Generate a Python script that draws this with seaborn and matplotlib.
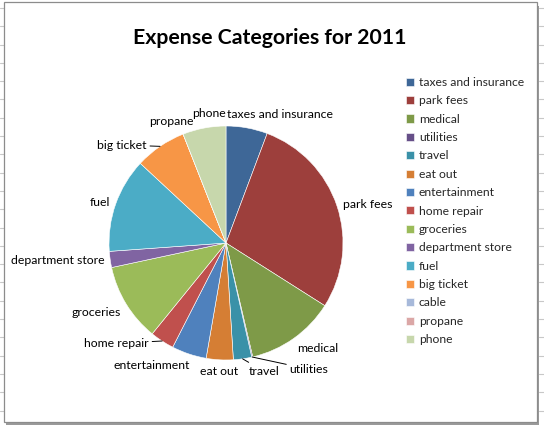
import numpy as np
import matplotlib.pyplot as plt
import seaborn as sns
from matplotlib.patches import Rectangle
from matplotlib.lines import Line2D

# expense data
categories = ["taxes and insurance", "park fees", "medical", "utilities", "travel",
              "eat out", "entertainment", "home repair", "groceries", "department store",
              "fuel", "big ticket", "cable", "propane", "phone"]
amounts = [1717, 8483, 3700, 42, 758, 1117, 1442, 1000, 3233, 667, 3917, 2133, 0, 0, 1792]
colors = ["#3E6797", "#9D3F3C", "#7E9A48", "#664F88", "#3A91A8", "#D57E34",
          "#4F81BD", "#C0504D", "#9BBB59", "#8064A2", "#4BACC6", "#F79646",
          "#A7B9DA", "#DBA7A6", "#C7D7AC"]
title = "Expense Categories for 2011"

# label tweaks (pixels, x right / y down) to mimic Excel's label placement
hidden_labels = {"cable"}
leader_labels = {"big ticket", "home repair", "travel", "utilities"}
label_nudge = {"taxes and insurance": (-21, -2), "phone": (23, -3), "propane": (13, -2),
               "big ticket": (-10, 9), "home repair": (-10, -8), "travel": (5, 1),
               "utilities": (36, 1), "entertainment": (3, 0)}

sns.set_theme(style="white")
plt.rcParams["font.family"] = ["Lato", "DejaVu Sans"]

W, H = 544, 425
fig = plt.figure(figsize=(W / 100, H / 100), dpi=100)

# spreadsheet frame around the chart (drawn below the axes)
for yy in np.arange(7.9, H, 18.3):
    fig.add_artist(Line2D([0, 4 / W], [1 - yy / H] * 2, color="#C8C8C8", lw=0.8, zorder=-3))
    fig.add_artist(Line2D([539 / W, 1], [1 - yy / H] * 2, color="#C8C8C8", lw=0.8, zorder=-3))
fig.add_artist(Rectangle((6 / W, 0.5 / H), 533 / W, 419 / H, transform=fig.transFigure,
                         facecolor="#9A9A9A", edgecolor="none", zorder=-2))
fig.add_artist(Rectangle((4 / W, 3 / H), 533 / W, 420 / H, transform=fig.transFigure,
                         facecolor="white", edgecolor="#8C8C8C", lw=0.9, zorder=-1))

# pie axes: centre at (226, 243) px, radius 117 px
R = 117
L = 1.6
side = 2 * L * R
cx, cy = 226, 243
ax = fig.add_axes([(cx - side / 2) / W, (H - cy - side / 2) / H, side / W, side / H])
ax.patch.set_visible(False)

wedges, _ = ax.pie(amounts, colors=colors, startangle=90, counterclock=False, radius=1,
                   wedgeprops=dict(edgecolor="white", linewidth=0.4))
ax.set_xlim(-L, L)
ax.set_ylim(-L, L)
ax.axis("off")

for w, name in zip(wedges, categories):
    if name in hidden_labels:
        continue
    ang = np.deg2rad((w.theta1 + w.theta2) / 2)
    dx, dy = np.cos(ang), np.sin(ang)
    nx, ny = label_nudge.get(name, (0, 0))
    tx = 1.05 * dx + nx / R
    ty = 1.05 * dy - ny / R
    ha = "left" if dx > 0.1 else ("right" if dx < -0.1 else "center")
    va = "top" if dy < -0.5 else ("bottom" if dy > 0.5 else "center")
    arrow = None
    if name in leader_labels:
        arrow = dict(arrowstyle="-", color="black", lw=0.7, shrinkA=0, shrinkB=0)
    ax.annotate(name, xy=(dx, dy), xytext=(tx, ty), ha=ha, va=va, fontsize=8.8,
                color="black", arrowprops=arrow)

fig.text(270 / W, 1 - 38 / H, title, ha="center", va="center", fontsize=15.3,
         fontweight="bold", color="black")

fig.legend(wedges, categories, loc="upper left", bbox_to_anchor=(406 / W, 1 - 77 / H),
           frameon=False, fontsize=8.7, handlelength=0.66, handleheight=0.66,
           handletextpad=0.4, labelspacing=0.61, borderpad=0, borderaxespad=0)

fig.savefig("out.png", dpi=100, facecolor="white")
